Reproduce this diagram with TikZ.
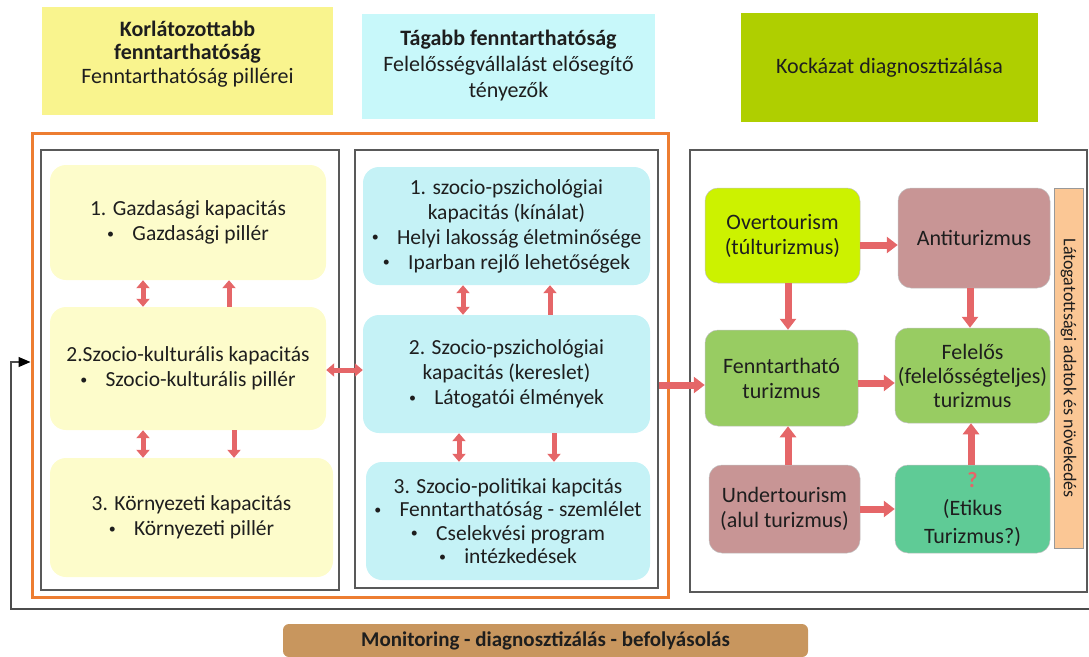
\documentclass[tikz,border=0pt]{standalone}
\usepackage{fontspec}
\setmainfont{Carlito}
\usetikzlibrary{arrows.meta,calc}
\definecolor{topyel}{HTML}{F9F48E}
\definecolor{topcyan}{HTML}{C8F8FA}
\definecolor{topgreen}{HTML}{AFCF00}
\definecolor{lyel}{HTML}{FDFCCB}
\definecolor{lcyan}{HTML}{C5F2F6}
\definecolor{pinkred}{HTML}{E56668}
\definecolor{overg}{HTML}{CCF200}
\definecolor{rose}{HTML}{C89595}
\definecolor{sgreen}{HTML}{98CC62}
\definecolor{etik}{HTML}{5FCB96}
\definecolor{peach}{HTML}{FBC795}
\definecolor{tan}{HTML}{C8965E}
\definecolor{orangef}{HTML}{ED7D31}
\definecolor{txt}{HTML}{1E1E1E}
\newcommand{\bul}{\raisebox{0.12em}{\fontsize{14}{14}\selectfont\textbullet}\hspace{0.85em}}
\tikzset{
  every node/.style={text=txt},
  topbox/.style={inner sep=0pt, align=center, font=\fontsize{22}{24}\selectfont},
  ybox/.style={fill=lyel, rounded corners=16pt, inner sep=0pt, align=center, font=\fontsize{21.5}{25}\selectfont},
  cbox/.style={fill=lcyan, rounded corners=16pt, inner sep=0pt, align=center, font=\fontsize{21.5}{25}\selectfont},
  rbox/.style={rounded corners=13pt, inner sep=0pt, align=center, font=\fontsize{22}{25}\selectfont, draw=black!25, line width=0.5pt},
  frame/.style={draw=black!65, line width=1.1pt, inner sep=0pt},
  parr/.style={draw=pinkred, line width=5pt, -{Triangle[width=13pt,length=8pt]}},
  pdarr/.style={draw=pinkred, line width=5pt, {Triangle[width=13pt,length=8pt]}-{Triangle[width=13pt,length=8pt]}},
  rarr/.style={draw=pinkred, line width=7pt, -{Triangle[width=16pt,length=11pt]}},
  fb/.style={draw=black!70, line width=1.1pt},
}
\begin{document}
\begin{tikzpicture}[x=1pt,y=-1pt]
\useasboundingbox (0,0) rectangle (1089,656);
% top headers
\node[topbox, fill=topyel, minimum width=291pt, minimum height=108pt] (T1) at (187.5,61) {};
\node[topbox, font=\fontsize{22}{23.5}\selectfont] (T1t) at (187.5,54)
  {\textbf{Korlátozottabb}\\ \textbf{fenntarthatóság}\\ Fenntarthatóság pillérei};
\node[topbox, fill=topcyan, minimum width=293pt, minimum height=105pt, font=\fontsize{22}{26}\selectfont] (T2) at (508.5,66)
  {\textbf{Tágabb fenntarthatóság}\\ Felelősségvállalást elősegítő\\ tényezők};
\node[topbox, fill=topgreen, minimum width=297pt, minimum height=109pt] (T3) at (889.5,67.5)
  {Kockázat diagnosztizálása};
% frames
\node[frame, minimum width=298pt, minimum height=440pt] (LF) at (190,370) {};
\node[frame, minimum width=303pt, minimum height=438pt] (MF) at (506.5,369) {};
\node[frame, minimum width=397pt, minimum height=442pt] (RF) at (888.5,371) {};
\node[draw=orangef, line width=3pt, inner sep=0pt, minimum width=636pt, minimum height=464pt] (OR) at (350,365) {};
% left column
\node[ybox, minimum width=276pt, minimum height=115pt] (L1) at (188,222.5)
  {1. Gazdasági kapacitás\\ \bul Gazdasági pillér};
\node[ybox, minimum width=276pt, minimum height=123pt] (L2) at (188,368.5)
  {2.Szocio-kulturális kapacitás\\ \bul Szocio-kulturális pillér};
\node[ybox, minimum width=283pt, minimum height=119pt] (L3) at (191.5,517.5)
  {3. Környezeti kapacitás\\ \bul Környezeti pillér};
% middle column
\node[cbox, minimum width=287pt, minimum height=118pt] (M1) at (506.5,226)
  {1. szocio-pszichológiai\\ kapacitás (kínálat)\\ \bul Helyi lakosság életminősége\\ \bul Iparban rejlő lehetőségek};
\node[cbox, minimum width=287pt, minimum height=118pt] (M2) at (506.5,374)
  {2. Szocio-pszichológiai\\ kapacitás (kereslet)\\ \bul Látogatói élmények};
\node[cbox, minimum width=284pt, minimum height=118pt, font=\fontsize{21.5}{23.5}\selectfont] (M3) at (508,521)
  {3. Szocio-politikai kapcitás\\ \bul Fenntarthatóság - szemlélet\\ \bul Cselekvési program\\ \bul intézkedések};
% right column
\node[rbox, fill=overg, minimum width=155pt, minimum height=95pt] (OV) at (782.5,235.5)
  {Overtourism\\ (túlturizmus)};
\node[rbox, fill=rose, minimum width=152pt, minimum height=100pt] (AN) at (974,238)
  {Antiturizmus};
\node[rbox, fill=sgreen, minimum width=153pt, minimum height=96pt] (FE) at (781.5,378)
  {Fenntartható\\ turizmus};
\node[rbox, fill=sgreen, minimum width=155pt, minimum height=95pt, font=\fontsize{22}{24}\selectfont] (FL) at (972.5,375.5)
  {Felelős\\ (felelősségteljes)\\ turizmus};
\node[rbox, fill=rose, minimum width=151pt, minimum height=88pt] (UN) at (784.5,509)
  {Undertourism\\ (alul turizmus)};
\node[rbox, fill=etik, minimum width=155pt, minimum height=88pt, font=\fontsize{22}{28}\selectfont] (ET) at (972.5,509)
  {{\color{pinkred}\textbf{?}}\\ (Etikus\\ Turizmus?)};
\node[draw=black!40, line width=0.6pt, fill=peach, rotate=-90, inner sep=0pt, minimum width=360pt, minimum height=29pt, font=\fontsize{18}{20}\selectfont] (VB) at (1068.5,368)
  {Látogatottsági adatok és növekedés};
% bottom
\node[fill=tan, rounded corners=6pt, inner sep=0pt, minimum width=525pt, minimum height=33pt, font=\bfseries\fontsize{21}{22}\selectfont] (MON) at (545.5,640.5)
  {Monitoring - diagnosztizálás - befolyásolás};
% left arrows
\draw[pdarr] ([xshift=-45pt]L1.south) -- ([xshift=-45pt]L1.south |- L2.north);
\draw[parr] ([xshift=41pt]L1.south |- L2.north) -- ([xshift=41pt]L1.south);
\draw[pdarr] ([xshift=-45pt]L2.south) -- ([xshift=-45pt]L2.south |- L3.north);
\draw[parr] ([xshift=46pt]L2.south) -- ([xshift=46pt]L2.south |- L3.north);
% middle arrows
\draw[pdarr] ([xshift=-43.5pt]M1.south) -- ([xshift=-43.5pt]M1.south |- M2.north);
\draw[parr] ([xshift=43.5pt]M1.south |- M2.north) -- ([xshift=43.5pt]M1.south);
\draw[pdarr] ([xshift=-47.5pt]M2.south) -- ([xshift=-47.5pt]M2.south |- M3.north);
\draw[parr] ([xshift=47.5pt]M2.south) -- ([xshift=47.5pt]M2.south |- M3.north);
% cross arrows
\draw[pdarr] ([yshift=-1.5pt]L2.east) -- ([yshift=-1.5pt]L2.east -| M2.west);
\draw[rarr] ([yshift=-7pt]FE.west -| MF.east) -- ([yshift=-7pt]FE.west);
% right arrows
\draw[rarr] ([yshift=-9.5pt]OV.east) -- ([yshift=-9.5pt]OV.east -| AN.west);
\draw[rarr] ([xshift=5.5pt]OV.south) -- ([xshift=5.5pt]OV.south |- FE.north);
\draw[rarr] ([xshift=-4pt]AN.south) -- ([xshift=-4pt]AN.south |- FL.north);
\draw[rarr] ([yshift=-5pt]FE.east) -- ([yshift=-5pt]FE.east -| FL.west);
\draw[rarr] ([xshift=3.5pt]UN.north) -- ([xshift=3.5pt]UN.north |- FE.south);
\draw[rarr] (UN.east) -- (UN.east -| ET.west);
\draw[rarr] ([xshift=-1.5pt]ET.north) -- ([xshift=-1.5pt]ET.north |- FL.south);
% feedback loop
\coordinate (fbR) at (1089,609);
\coordinate (fbL) at (11,609);
\draw[fb, -{Triangle[width=10pt,length=12pt,color=black]}] (fbR) -- (fbL) |- ([yshift=3pt]OR.west);
\end{tikzpicture}
\end{document}
